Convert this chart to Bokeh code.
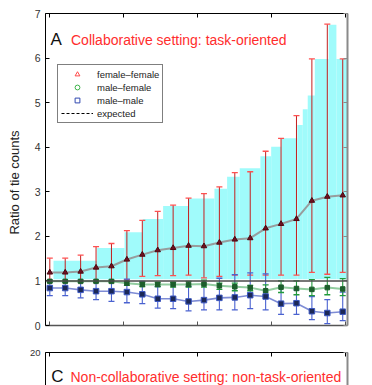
import numpy as np
from bokeh.plotting import figure
from bokeh.models import (Range1d, LinearAxis, FixedTicker, ColumnDataSource, Label,
                          Legend, LegendItem, Span)
from bokeh.layouts import column
from bokeh.embed import file_html
from bokeh.resources import INLINE

# ---------------- data ----------------
x_pos = list(range(1, 21))

ff_mean = [1.19, 1.19, 1.21, 1.30, 1.33, 1.48, 1.59, 1.69, 1.74, 1.79,
           1.78, 1.86, 1.93, 1.96, 2.18, 2.28, 2.39, 2.80, 2.89, 2.92]
ff_low = [1.00, 1.00, 1.00, 1.00, 1.00, 1.03, 1.10, 1.12, 1.12, 1.13,
          1.07, 1.10, 1.13, 1.13, 1.13, 1.13, 1.13, 1.19, 1.15, 1.19]
ff_high = [1.51, 1.51, 1.58, 1.77, 1.84, 2.13, 2.36, 2.56, 2.70, 2.86,
           2.96, 3.11, 3.43, 3.45, 3.91, 4.20, 4.71, 5.98, 6.76, 5.98]

mf_mean = [0.99, 0.99, 0.99, 0.99, 0.99, 0.95, 0.92, 0.92, 0.92, 0.92,
           0.93, 0.89, 0.87, 0.85, 0.78, 0.86, 0.83, 0.81, 0.85, 0.82]
mf_low = [0.97, 0.97, 0.97, 0.97, 0.96, 0.90, 0.87, 0.87, 0.86, 0.86,
          0.86, 0.81, 0.78, 0.78, 0.67, 0.74, 0.69, 0.67, 0.69, 0.67]
mf_high = [1.01, 1.01, 1.01, 1.01, 1.02, 0.99, 0.97, 0.97, 0.97, 0.99,
           1.02, 0.95, 0.95, 0.90, 0.91, 1.00, 1.00, 1.03, 1.08, 1.05]

mm_mean = [0.84, 0.84, 0.80, 0.77, 0.77, 0.75, 0.70, 0.60, 0.60, 0.54,
           0.57, 0.62, 0.63, 0.68, 0.65, 0.49, 0.50, 0.32, 0.28, 0.31]
mm_low = [0.67, 0.67, 0.62, 0.58, 0.54, 0.51, 0.49, 0.39, 0.38, 0.33,
          0.35, 0.35, 0.35, 0.38, 0.35, 0.25, 0.25, 0.13, 0.04, 0.11]
mm_high = [1.02, 1.00, 1.02, 0.97, 0.99, 1.04, 0.99, 0.87, 0.92, 0.88,
           0.93, 1.06, 1.14, 1.18, 1.16, 0.88, 0.80, 0.65, 0.58, 0.75]

bar_left = [1.24, 4.07, 5.85, 7.03, 8.35, 10.01, 11.68, 12.50, 13.32, 14.66,
            15.36, 16.03, 17.06, 17.41, 17.73, 18.19, 19.09, 19.59]
bar_right = bar_left[1:] + [20.60]
bar_top = [1.45, 1.74, 2.09, 2.39, 2.68, 2.85, 3.07, 3.34, 3.53, 3.80,
           4.01, 4.20, 4.50, 4.85, 5.16, 5.98, 6.75, 5.98]
bar_bottom = 1.04
expected = 1.0

y_ticks_a = [0, 1, 2, 3, 4, 5, 6, 7]
y_ticks_c = [20]
x_ticks = [1.0, 5.8, 10.6, 15.4, 20.2]

series_labels = ["female–female", "male–female", "male–male", "expected"]
title_a = ("A", "Collaborative setting: task-oriented")
title_c = ("C", "Non-collaborative setting: non-task-oriented")
y_label = "Ratio of tie counts"

FONT = "Liberation Sans"
RED_T = "#ff2d2d"
X0, X1 = 0.721, 20.31


def style_axis(ax, color="black", width=1, labels=False):
    ax.axis_line_color = color
    ax.axis_line_width = width
    ax.major_tick_in = 4
    ax.major_tick_out = 0
    ax.minor_tick_line_color = None
    ax.major_tick_line_color = color
    if labels:
        ax.major_label_text_font = FONT
        ax.major_label_text_font_size = "10.5px"
        ax.major_label_text_color = "#333333"
        ax.major_label_standoff = 5
    else:
        ax.major_label_text_font_size = "0px"
        ax.major_label_text_color = None
        ax.major_label_standoff = 0


# ---------------- panel A ----------------
pa = figure(width=360, height=340, output_backend="svg", toolbar_location=None,
            x_range=Range1d(X0, X1), y_range=Range1d(0, 7),
            min_border_left=45, min_border_right=13, min_border_top=13, min_border_bottom=15)
pa.outline_line_color = None
pa.xgrid.visible = False
pa.ygrid.visible = False
pa.background_fill_color = "white"
pa.border_fill_color = "white"

pa.xaxis.ticker = FixedTicker(ticks=x_ticks)
style_axis(pa.xaxis[0], color="#555555", width=1.5)
pa.yaxis.ticker = FixedTicker(ticks=y_ticks_a)
style_axis(pa.yaxis[0], labels=True)
# trailing en spaces shift the centred label upward, as in the reference
pa.yaxis[0].axis_label = y_label + "\u2002\u2002\u2002\u2002"
pa.yaxis[0].axis_label_text_font = FONT
pa.yaxis[0].axis_label_text_font_size = "13px"
pa.yaxis[0].axis_label_text_font_style = "normal"
pa.yaxis[0].axis_label_text_color = "#222222"
pa.yaxis[0].axis_label_standoff = 10

top_ax = LinearAxis(ticker=FixedTicker(ticks=x_ticks))
style_axis(top_ax)
pa.add_layout(top_ax, "above")
right_ax = LinearAxis(ticker=FixedTicker(ticks=y_ticks_a))
style_axis(right_ax, color="#8a8a8a", width=2)
pa.add_layout(right_ax, "right")

# cyan bars
pa.quad(left=bar_left, right=bar_right, top=bar_top, bottom=bar_bottom,
        fill_color="#a0fbfb", line_color=None)

# expected line
pa.add_layout(Span(location=expected, dimension="width", line_color="#4a4a4a", line_width=1.5))

# error bars
def errbars(p, low, high, color, cap_color, width=1.0):
    p.segment(x0=x_pos, y0=low, x1=x_pos, y1=high, line_color=color, line_width=width)
    p.scatter(x=x_pos, y=high, marker="dash", size=6, line_color=cap_color, line_width=1.3)
    p.scatter(x=x_pos, y=low, marker="dash", size=6, line_color=cap_color, line_width=1.3)

errbars(pa, ff_low, ff_high, "#c41e1e", "#ff5050", 1.0)
errbars(pa, mm_low, mm_high, "#4a62d0", "#4a62d0", 1.1)
errbars(pa, mf_low, mf_high, "#219a3c", "#219a3c", 1.1)

# lines + markers
pa.line(x_pos, ff_mean, line_color="#958c8c", line_width=2, line_alpha=0.85)
pa.scatter(x_pos, ff_mean, marker="triangle", size=5.5, fill_color="#6e1020", line_color="#4a0810")
pa.line(x_pos, mf_mean, line_color="#86c896", line_width=2, line_alpha=0.9)
pa.scatter(x_pos, mf_mean, marker="square", size=4.5, fill_color="#1d5e2c", line_color="#1d5e2c")
pa.line(x_pos, mm_mean, line_color="#7080d0", line_width=1.6, line_alpha=0.9)
pa.scatter(x_pos, mm_mean, marker="square", size=5.5, fill_color="#1c2856", line_color="#3a56c0")

# legend (proxy renderers without visible points)
nan_src = ColumnDataSource(dict(x=[np.nan], y=[np.nan]))
r1 = pa.scatter("x", "y", source=nan_src, marker="triangle", fill_color=None, line_color="#ff4a4a", line_width=1)
r2 = pa.scatter("x", "y", source=nan_src, marker="circle", fill_color=None, line_color="#3cb44a", line_width=1)
r3 = pa.scatter("x", "y", source=nan_src, marker="square", fill_color=None, line_color="#3048b0", line_width=1)
r4 = pa.line("x", "y", source=nan_src, line_color="black", line_width=1, line_dash="3 2")
legend = Legend(items=[LegendItem(label=series_labels[0], renderers=[r1]),
                       LegendItem(label=series_labels[1], renderers=[r2]),
                       LegendItem(label=series_labels[2], renderers=[r3]),
                       LegendItem(label=series_labels[3], renderers=[r4])],
                location=(12, 202), margin=0, padding=3, spacing=1,
                glyph_width=32, glyph_height=12, label_height=12, label_standoff=4,
                label_text_font=FONT, label_text_font_size="9.5px", label_text_color="#222222",
                border_line_color="black", border_line_width=1,
                background_fill_color="white", background_fill_alpha=1.0)
pa.add_layout(legend)

pa.add_layout(Label(x=1.045, y=6.41, text=title_a[0], text_font=FONT, text_font_size="17px",
                    text_color="#111111", text_baseline="alphabetic", text_align="left"))
pa.add_layout(Label(x=2.375, y=6.41, text=title_a[1], text_font=FONT, text_font_size="14px",
                    text_color=RED_T, text_baseline="alphabetic", text_align="left"))

# ---------------- panel C (top edge only) ----------------
pc = figure(width=360, height=45, output_backend="svg", toolbar_location=None,
            x_range=Range1d(X0, X1), y_range=Range1d(0, 20), x_axis_location="above",
            min_border_left=45, min_border_right=13, min_border_top=12, min_border_bottom=0)
pc.outline_line_color = None
pc.xgrid.visible = False
pc.ygrid.visible = False
pc.xaxis.ticker = FixedTicker(ticks=x_ticks)
style_axis(pc.xaxis[0])
pc.yaxis.ticker = FixedTicker(ticks=y_ticks_c)
style_axis(pc.yaxis[0], labels=True)
pc.yaxis[0].major_label_text_font_size = "9.5px"
right_c = LinearAxis(ticker=FixedTicker(ticks=y_ticks_c))
style_axis(right_c, color="#8a8a8a", width=2)
pc.add_layout(right_c, "right")
pc.add_layout(Label(x=1.09, y=5.4, text=title_c[0], text_font=FONT, text_font_size="17px",
                    text_color="#111111", text_baseline="alphabetic", text_align="left"))
pc.add_layout(Label(x=2.342, y=5.4, text=title_c[1], text_font=FONT, text_font_size="14px",
                    text_color=RED_T, text_baseline="alphabetic", text_align="left"))

layout = column(pa, pc, spacing=0)
open("out.html", "w").write(file_html(layout, INLINE))
